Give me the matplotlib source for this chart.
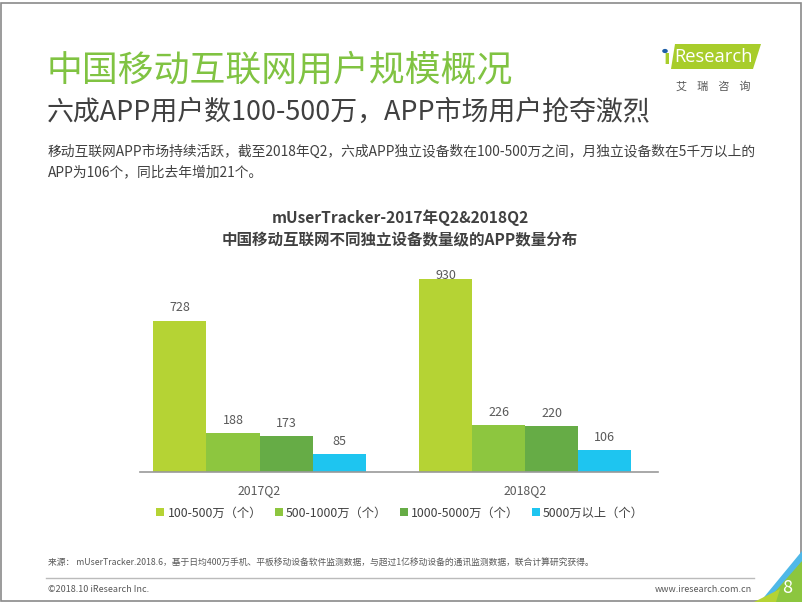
import matplotlib
matplotlib.use("Agg")
import matplotlib.pyplot as plt
import numpy as np
from matplotlib.patches import Polygon, Rectangle

plt.rcParams['font.family'] = ['Noto Sans CJK SC', 'DejaVu Sans']

# ---- data ----
periods = ["2017Q2", "2018Q2"]
series_names = ["100-500万（个）", "500-1000万（个）", "1000-5000万（个）", "5000万以上（个）"]
values_2017 = [728, 188, 173, 85]
values_2018 = [930, 226, 220, 106]
series_colors = ["#B5D334", "#8DC63F", "#66AC46", "#1EC5F0"]

W, H = 802, 602
fig = plt.figure(figsize=(W / 100, H / 100), dpi=100)

def fx(x):
    return x / W

def fy(y):
    return 1 - y / H

# slide frame
fig.patches.append(Rectangle((0.001, 0.001), 0.998, 0.994, transform=fig.transFigure,
                             fill=False, edgecolor="#8a8a8a", linewidth=1.2))

# titles
fig.text(fx(47), fy(70), "中国移动互联网用户规模概况", fontsize=25.8, color="#80C342",
         va="center", ha="left")
fig.text(fx(47), fy(112), "六成APP用户数100-500万，APP市场用户抢夺激烈", fontsize=19.4,
         color="#404040", va="center", ha="left")
fig.text(fx(48), fy(152), "移动互联网APP市场持续活跃，截至2018年Q2，六成APP独立设备数在100-500万之间，月独立设备数在5千万以上的",
         fontsize=9.9, color="#404040", va="center", ha="left")
fig.text(fx(48), fy(172), "APP为106个，同比去年增加21个。",
         fontsize=9.9, color="#404040", va="center", ha="left")

# logo
fig.patches.append(Polygon([(fx(675), fy(44)), (fx(761), fy(44)), (fx(753), fy(69)), (fx(671), fy(69))],
                           closed=True, transform=fig.transFigure, facecolor="#A8CD2B", edgecolor="none"))
fig.text(fx(667), fy(59), "ı", fontsize=14, color="#A8CD2B", va="center", ha="center", fontweight="bold",
         family=["DejaVu Sans"])
fig.text(fx(714), fy(57), "Research", fontsize=13.2, color="white", va="center", ha="center",
         family=["Open Sans"])
fig.patches.append(plt.Circle((fx(665), fy(51)), 0.0035, transform=fig.transFigure,
                              facecolor="#1F5FA8", edgecolor="none"))
fig.text(fx(713), fy(86), "艾    瑞    咨    询", fontsize=8, color="#555555", va="center", ha="center")

# chart title
fig.text(fx(400), fy(218), "mUserTracker-2017年Q2&2018Q2", fontsize=11.2, fontweight="bold",
         color="#404040", va="center", ha="center")
fig.text(fx(400), fy(240), "中国移动互联网不同独立设备数量级的APP数量分布", fontsize=11.2, fontweight="bold",
         color="#404040", va="center", ha="center")

# axes
ax_left, ax_right, ax_top, ax_bottom = 140, 658, 260, 472
ax = fig.add_axes([fx(ax_left), fy(ax_bottom), (ax_right - ax_left) / W, (ax_bottom - ax_top) / H])
ymax = 1022
ax.set_ylim(0, ymax)
ax.set_xlim(-0.45, 1.5)

data = np.array([values_2017, values_2018])  # periods x series
n_series = len(series_names)
width = 0.2
x = np.arange(len(periods))
px_per_unit = (ax_bottom - ax_top) / ymax
label_off = 13 / px_per_unit
label_cap = ymax - 15 / px_per_unit
handles = []
for i in range(n_series):
    xs = x + (i - (n_series - 1) / 2) * width
    bars = ax.bar(xs, data[:, i], width=width, color=series_colors[i], label=series_names[i], zorder=2)
    handles.append(bars)
    for xi, v in zip(xs, data[:, i]):
        ax.text(xi, min(v + label_off, label_cap), f"{v}", ha="center", va="center",
                fontsize=9, color="#595959")

for s in ["top", "right", "left"]:
    ax.spines[s].set_visible(False)
ax.spines["bottom"].set_color("#999999")
ax.spines["bottom"].set_linewidth(1.2)
ax.set_yticks([])
ax.set_xticks(x)
ax.set_xticklabels(periods, fontsize=8.8, color="#595959")
ax.tick_params(axis="x", length=0, pad=9)
ax.patch.set_alpha(0)

leg = fig.legend(handles=handles, labels=series_names, loc="center", bbox_to_anchor=(fx(400), fy(513)),
                 ncol=4, frameon=False, fontsize=8.8, handlelength=0.65, handleheight=0.65,
                 handletextpad=0.25, columnspacing=1.05, labelcolor="#404040")

# footer
fig.text(fx(48), fy(563), "来源： mUserTracker.2018.6，基于日均400万手机、平板移动设备软件监测数据，与超过1亿移动设备的通讯监测数据，联合计算研究获得。",
         fontsize=6.3, color="#595959", va="center", ha="left")
fig.add_artist(plt.Line2D([fx(46), fx(754)], [fy(578), fy(578)], transform=fig.transFigure,
                          color="#bbbbbb", linewidth=1))
fig.text(fx(48), fy(589), "©2018.10 iResearch Inc.", fontsize=6.5, color="#595959", va="center", ha="left")
fig.text(fx(752), fy(589), "www.iresearch.com.cn", fontsize=6.5, color="#595959", va="center", ha="right")

# corner decoration
fig.patches.append(Polygon([(fx(760), fy(602)), (fx(802), fy(551)), (fx(802), fy(602))],
                           closed=True, transform=fig.transFigure, facecolor="#4FB8E8", edgecolor="none"))
fig.patches.append(Polygon([(fx(766), fy(602)), (fx(802), fy(561)), (fx(802), fy(602))],
                           closed=True, transform=fig.transFigure, facecolor="#8CC63F", edgecolor="none"))
fig.patches.append(Polygon([(fx(754), fy(602)), (fx(780), fy(589)), (fx(776), fy(602))],
                           closed=True, transform=fig.transFigure, facecolor="#B5D334", edgecolor="none"))
fig.text(fx(787), fy(588), "8", fontsize=13, color="white", va="center", ha="center")

fig.savefig("out.png", dpi=100)
